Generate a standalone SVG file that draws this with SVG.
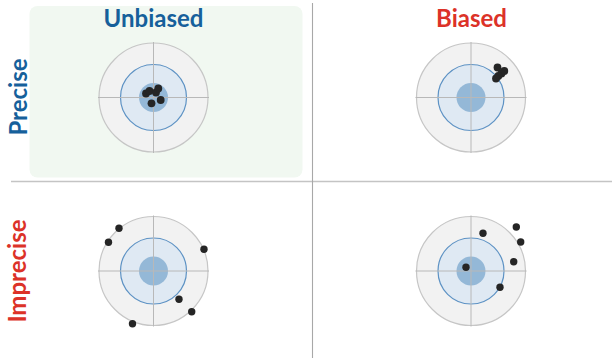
<svg xmlns="http://www.w3.org/2000/svg" width="612" height="358" viewBox="0 0 612 358">
  <style>
    .title { font-family: Lato, "Open Sans", "Liberation Sans", sans-serif; font-weight: bold; font-size: 24px; text-anchor: middle; }
    .blue { fill: #16609b; }
    .red { fill: #dc3228; }
    .outer { fill: #f2f2f2; stroke: #c6c6c6; stroke-width: 1.2; }
    .ring { fill: #dfe9f3; stroke: #5d92c4; stroke-width: 1.2; }
    .bull { fill: #94b8d7; }
    .cross { stroke: #b8b8b8; stroke-width: 1; }
    .shot { fill: #252525; }
  </style>
  <defs>
    <g id="target">
      <circle class="outer" r="54.5"/>
      <circle class="ring" r="33"/>
      <circle class="bull" r="14.5"/>
      <line class="cross" x1="-55.5" y1="0" x2="55.5" y2="0"/>
      <line class="cross" x1="0" y1="-55.5" x2="0" y2="55.5"/>
    </g>
  </defs>

  <rect width="612" height="358" fill="#ffffff"/>

  <!-- highlighted quadrant -->
  <rect x="29.5" y="6" width="273" height="171.5" rx="8" fill="#f1f8f1"/>

  <!-- quadrant dividers -->
  <g id="dividers">
    <line x1="11" y1="181.5" x2="612" y2="181.5" stroke-width="1.6" stroke="#c4c4c4"/>
    <line x1="312.5" y1="3" x2="312.5" y2="358" stroke-width="1.1" stroke="#a8a8a8"/>
  </g>

  <!-- column and row headings -->
  <text class="title blue" x="153.5" y="26.5">Unbiased</text>
  <text class="title red" x="471.5" y="26.5">Biased</text>
  <text class="title blue" transform="translate(27 97) rotate(-90)">Precise</text>
  <text class="title red" transform="translate(26 271) rotate(-90)">Imprecise</text>

  <!-- precise, unbiased -->
  <g id="target-precise-unbiased">
    <use href="#target" x="153.5" y="97.5"/>
    <circle class="shot" cx="146" cy="93.5" r="3.9"/>
    <circle class="shot" cx="149.5" cy="91" r="3.9"/>
    <circle class="shot" cx="156" cy="92.5" r="3.9"/>
    <circle class="shot" cx="158.3" cy="88.5" r="3.9"/>
    <circle class="shot" cx="151.5" cy="103.3" r="3.9"/>
    <circle class="shot" cx="160.7" cy="100" r="3.9"/>
  </g>

  <!-- precise, biased -->
  <g id="target-precise-biased">
    <use href="#target" x="471" y="97.5"/>
    <circle class="shot" cx="497.5" cy="67.5" r="3.9"/>
    <circle class="shot" cx="504.3" cy="71" r="3.9"/>
    <circle class="shot" cx="501.5" cy="73.5" r="3.9"/>
    <circle class="shot" cx="498.3" cy="76" r="3.9"/>
    <circle class="shot" cx="496" cy="78.5" r="3.9"/>
  </g>

  <!-- imprecise, unbiased -->
  <g id="target-imprecise-unbiased">
    <use href="#target" x="153.5" y="271"/>
    <circle class="shot" cx="119" cy="228.3" r="3.7"/>
    <circle class="shot" cx="108.5" cy="242.3" r="3.7"/>
    <circle class="shot" cx="204" cy="249.3" r="3.7"/>
    <circle class="shot" cx="179" cy="299.3" r="3.7"/>
    <circle class="shot" cx="191.7" cy="311.7" r="3.7"/>
    <circle class="shot" cx="132.5" cy="323.8" r="3.7"/>
  </g>

  <!-- imprecise, biased -->
  <g id="target-imprecise-biased">
    <use href="#target" x="471" y="271"/>
    <circle class="shot" cx="483" cy="233.3" r="3.7"/>
    <circle class="shot" cx="516.3" cy="227" r="3.7"/>
    <circle class="shot" cx="520.7" cy="242" r="3.7"/>
    <circle class="shot" cx="513.7" cy="261.7" r="3.7"/>
    <circle class="shot" cx="466" cy="267.3" r="3.7"/>
    <circle class="shot" cx="500" cy="287.3" r="3.7"/>
  </g>
</svg>
